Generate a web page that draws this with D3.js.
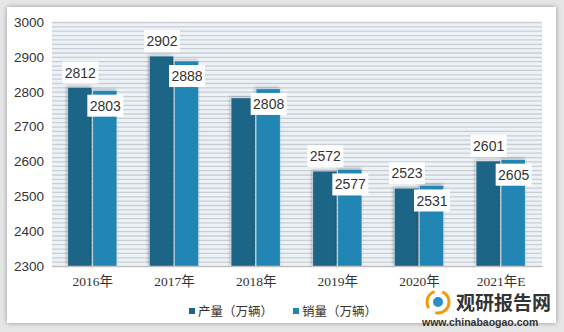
<!DOCTYPE html>
<html lang="zh">
<head>
<meta charset="UTF-8">
<title>产量 销量</title>
<script src="https://d3js.org/d3.v7.min.js"></script>
<style>
  body { margin: 0; background: #e4e4e4; }
  svg text { font-family: "Liberation Sans", "Noto Sans CJK SC", sans-serif; fill: #333; }
</style>
</head>
<body>
<div id="chart"></div>
<script>
// data
const years = ["2016年", "2017年", "2018年", "2019年", "2020年", "2021年E"];
const production = [2812, 2902, 2782, 2572, 2523, 2601];
const sales = [2803, 2888, 2808, 2577, 2531, 2605];
const seriesNames = ["产量（万辆）", "销量（万辆）"];
const yTicks = [2300, 2400, 2500, 2600, 2700, 2800, 2900, 3000];
// the reference hides the 2018 production label (covered)
const hiddenLabels = ["2018年:0"];

const W = 564, H = 332;
const margin = {top: 22, right: 22, bottom: 66, left: 52};
const width = W - margin.left - margin.right,
      height = H - margin.top - margin.bottom;
const colors = ["#1b6587", "#2086b4"];

const root = d3.select("#chart").append("svg")
    .attr("width", W).attr("height", H);

const defs = root.append("defs");
const f = defs.append("filter").attr("id", "shadow")
    .attr("x", "-10%").attr("y", "-10%").attr("width", "120%").attr("height", "120%");
f.append("feDropShadow").attr("dx", 0).attr("dy", 0).attr("stdDeviation", 2.5)
    .attr("flood-color", "#000").attr("flood-opacity", 0.35);
const bs = defs.append("filter").attr("id", "barshadow")
    .attr("x", "-30%").attr("y", "-10%").attr("width", "160%").attr("height", "120%");
bs.append("feDropShadow").attr("dx", -1).attr("dy", -1).attr("stdDeviation", 1.5)
    .attr("flood-color", "#000").attr("flood-opacity", 0.3);

// outer panel
root.append("rect").attr("x", 0).attr("y", 0).attr("width", W).attr("height", H).attr("fill", "#e6e6e6");
root.append("rect").attr("x", 7).attr("y", 7).attr("width", 549).attr("height", 316)
    .attr("fill", "#fff").attr("filter", "url(#shadow)");

const svg = root.append("g").attr("transform", `translate(${margin.left},${margin.top})`);

const x = d3.scaleBand().domain(years).range([0, width]);
const x1 = d3.scaleBand().domain([0, 1]).range([x.bandwidth() / 2 - 25, x.bandwidth() / 2 + 25]);
const y = d3.scaleLinear().domain([2300, 3000]).range([height, 0]);

// striped background
svg.append("rect").attr("width", width).attr("height", height).attr("fill", "#edf2f7");
svg.append("g").selectAll("line")
    .data(d3.range(2300, 3000.1, 12.5))
    .join("line")
    .attr("x1", 0).attr("x2", width)
    .attr("y1", d => y(d) + 0.5).attr("y2", d => y(d) + 0.5)
    .attr("stroke", "#c9ced5").attr("stroke-width", 1.3);

// y axis
const yAxis = svg.append("g").call(d3.axisLeft(y).tickValues(yTicks).tickSize(0).tickPadding(8).tickFormat(d3.format("d")));
yAxis.select(".domain").remove();
yAxis.selectAll("text").style("font-size", "13.5px").attr("fill", "#333");

// x axis
const xAxis = svg.append("g").attr("transform", `translate(0,${height})`)
    .call(d3.axisBottom(x).tickSize(0).tickPadding(10));
xAxis.select(".domain").attr("stroke", "#bbb");
xAxis.selectAll("text").style("font-size", "13.5px").style("font-family", "'Liberation Serif', 'Noto Sans CJK SC', serif").attr("fill", "#333");

// bars
const rows = years.map((yr, i) => ({year: yr, vals: [production[i], sales[i]]}));
const groups = svg.append("g").selectAll("g").data(rows).join("g")
    .attr("transform", d => `translate(${x(d.year)},0)`);

groups.selectAll("rect").data(d => d.vals.map((v, k) => ({v, k})))
    .join("rect")
    .attr("x", d => x1(d.k))
    .attr("y", d => y(d.v))
    .attr("width", x1.bandwidth() - 1)
    .attr("height", d => height - y(d.v))
    .attr("fill", d => colors[d.k])
    .attr("stroke", "#fff").attr("stroke-opacity", 0.5).attr("stroke-width", 0.6)
    .attr("filter", "url(#barshadow)");

// value labels
const labels = groups.selectAll("g.lbl")
    .data(d => d.vals.map((v, k) => ({v, k, id: d.year + ":" + k})).filter(e => !hiddenLabels.includes(e.id)))
    .join("g").attr("class", "lbl")
    .attr("transform", d => `translate(${x1(d.k) + x1.bandwidth() / 2},${y(d.v) + (d.k === 0 ? -15 : 15)})`);
labels.append("rect").attr("x", -18).attr("y", -11).attr("width", 36).attr("height", 22).attr("fill", "#fff");
labels.append("text").attr("text-anchor", "middle").attr("dy", "0.36em")
    .style("font-size", "14px").text(d => d.v);

// legend
const legend = root.append("g").attr("transform", "translate(189,311)");
const li = legend.selectAll("g").data(seriesNames).join("g")
    .attr("transform", (d, i) => `translate(${i * 104},0)`);
li.append("rect").attr("x", 0).attr("y", -3).attr("width", 6).attr("height", 6).attr("fill", (d, i) => colors[i]);
li.append("text").attr("x", 9).attr("dy", "0.36em").style("font-size", "12.5px")
    .style("font-family", "'Noto Sans CJK SC', sans-serif").text(d => d);

// watermark
const wm = root.append("g").attr("transform", "translate(420,292)");
wm.append("circle").attr("cx", 18).attr("cy", 10).attr("r", 11).attr("fill", "none")
    .attr("stroke", "#f39800").attr("stroke-width", 3).attr("stroke-dasharray", "20 8");
wm.append("circle").attr("cx", 18).attr("cy", 10).attr("r", 5).attr("fill", "#2a8fc7");
wm.append("text").attr("x", 36).attr("y", 18).style("font-size", "19px").style("font-weight", "bold")
    .style("font-family", "'Noto Sans CJK SC', sans-serif").attr("fill", "#111").text("观研报告网");
wm.append("text").attr("x", 2).attr("y", 34).style("font-size", "10.5px").style("font-weight", "bold")
    .attr("fill", "#111").text("www.chinabaogao.com");
</script>
</body>
</html>
